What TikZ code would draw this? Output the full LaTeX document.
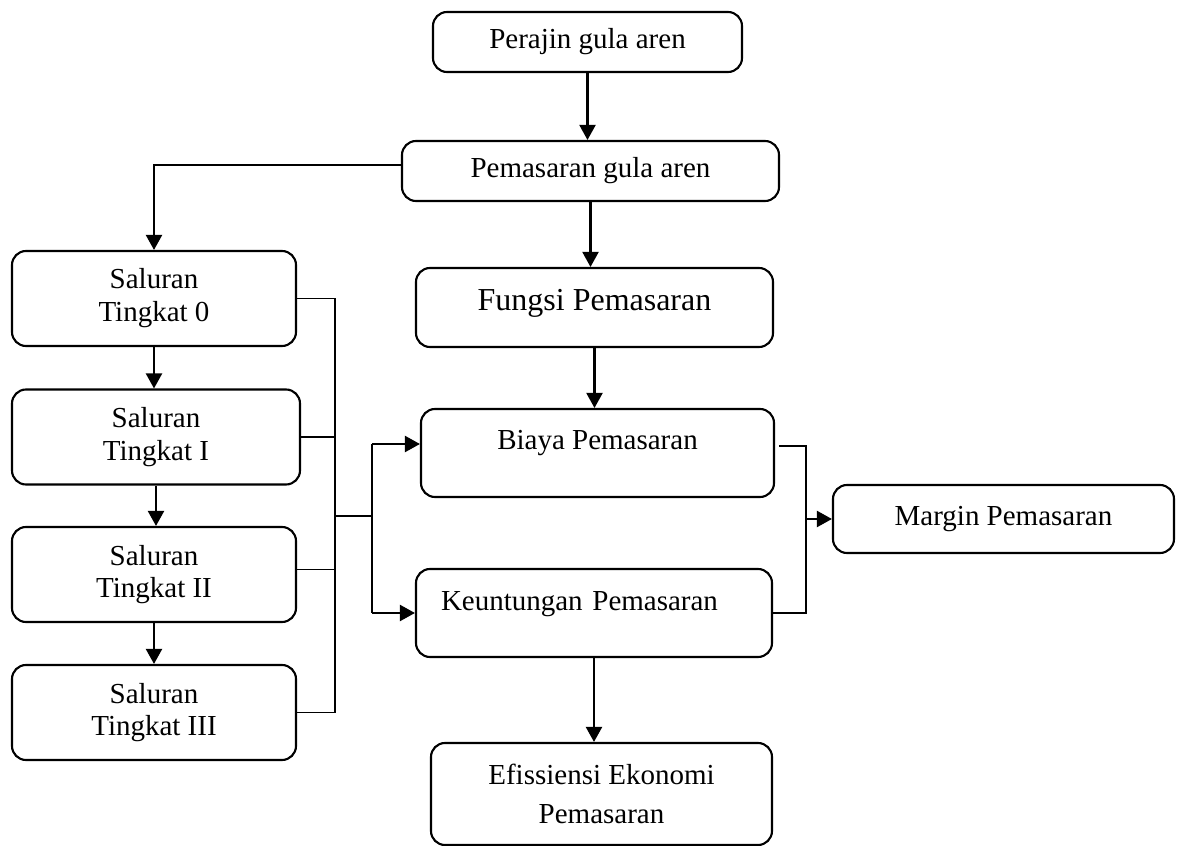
\documentclass[tikz,border=0pt]{standalone}
\usepackage{fontspec}
\setmainfont{Liberation Serif}
\usetikzlibrary{arrows.meta}

\begin{document}
\begin{tikzpicture}
    \tikzstyle{flow box} = [draw, rounded corners=0.28cm, line width=1.2pt, align=center, inner sep=0pt, font=\fontsize{16.5}{18.7}\selectfont]
    \tikzstyle{channel box} = [flow box, minimum width=5.68cm, minimum height=1.9cm]
    \tikzstyle{flow arrow} = [line width=1.2pt, -{Triangle[length=0.3cm, width=0.32cm]}]
    \tikzstyle{flow line} = [line width=1.1pt]

    \useasboundingbox (0, 0) rectangle (23.66, -16.92);

    % middle column
    \node[flow box, minimum width=6.18cm, minimum height=1.2cm] (perajin) at (11.75, -0.84) {Perajin gula aren};
    \node[flow box, minimum width=7.54cm, minimum height=1.2cm] (pemasaran) at (11.81, -3.42) {Pemasaran gula aren};
    \node[flow box, minimum width=7.14cm, minimum height=1.58cm, text depth=0.32cm, font=\fontsize{18.2}{20}\selectfont] (fungsi) at (11.89, -6.15) {Fungsi Pemasaran};
    \node[flow box, minimum width=7.06cm, minimum height=1.76cm, text depth=0.54cm] (biaya) at (11.95, -9.06) {Biaya Pemasaran};
    \node[flow box, minimum width=7.12cm, minimum height=1.76cm, text depth=0.46cm, text width=6.12cm, align=left, inner xsep=0.5cm] (keuntungan) at (11.88, -12.26) {Keuntungan Pemasaran};
    \node[flow box, minimum width=6.82cm, minimum height=2.04cm, font=\fontsize{16.5}{22.4}\selectfont] (efisiensi) at (12.03, -15.88) {Efissiensi Ekonomi\\Pemasaran};
    \node[flow box, minimum width=6.82cm, minimum height=1.36cm] (margin) at (20.07, -10.38) {Margin Pemasaran};

    % saluran column
    \node[channel box] (s0) at (3.08, -5.97) {Saluran\\Tingkat 0};
    \node[channel box, minimum width=5.76cm] (s1) at (3.12, -8.74) {Saluran\\Tingkat I};
    \node[channel box] (s2) at (3.08, -11.49) {Saluran\\Tingkat II};
    \node[channel box] (s3) at (3.08, -14.25) {Saluran\\Tingkat III};

    \coordinate (bus) at (6.70, 0);
    \coordinate (fork) at (7.44, 0);
    \coordinate (mid) at (7.44, -10.32);
    \coordinate (merge) at (16.12, 0);

    \draw[flow arrow] (perajin.south) -- (perajin.south |- pemasaran.north);
    \draw[flow arrow] ([yshift=0.12cm]pemasaran.west) -| (s0.north);
    \draw[flow arrow] (pemasaran.south) -- (pemasaran.south |- fungsi.north);
    \draw[flow arrow] (fungsi.south) -- (fungsi.south |- biaya.north);
    \draw[flow arrow] (keuntungan.south) -- (keuntungan.south |- efisiensi.north);

    \draw[flow arrow] (s0.south) -- (s0.south |- s1.north);
    \draw[flow arrow] (s1.south) -- (s1.south |- s2.north);
    \draw[flow arrow] (s2.south) -- (s2.south |- s3.north);

    % collecting line of the channels
    \draw[flow line] (s0.east) -| (bus |- s3.east) -- (s3.east);
    \draw[flow line] (s1.east) -- (s1.east -| bus);
    \draw[flow line] ([yshift=0.1cm]s2.east) -- ([yshift=0.1cm]s2.east -| bus);
    \draw[flow line] (mid -| bus) -- (mid);

    \draw[flow line] ([yshift=0.18cm]fork |- biaya.west) -- (fork |- keuntungan.west);
    \draw[flow arrow] ([yshift=0.18cm]fork |- biaya.west) -- ([yshift=0.18cm]biaya.west);
    \draw[flow arrow] (fork |- keuntungan.west) -- (keuntungan.west);

    \draw[flow line] ([xshift=0.08cm, yshift=0.14cm]biaya.east) -| (merge |- keuntungan.east) -- (keuntungan.east);
    \draw[flow arrow] (merge |- margin.west) -- (margin.west);

\end{tikzpicture}
\end{document}
